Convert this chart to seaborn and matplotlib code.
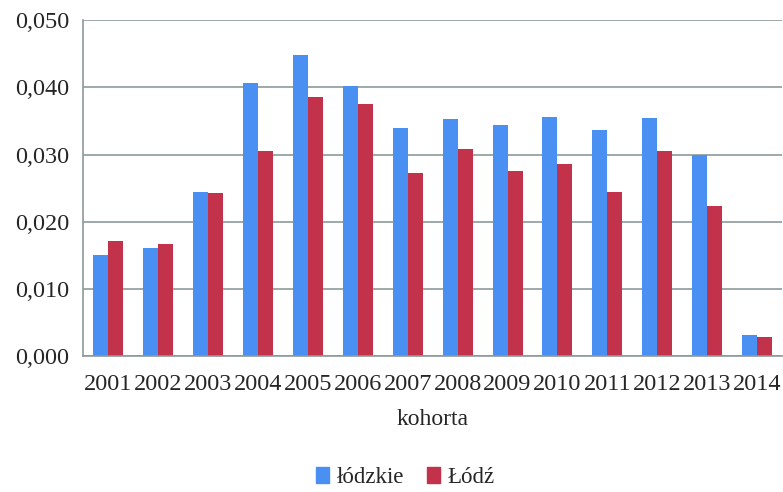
import numpy as np
import pandas as pd
import matplotlib.pyplot as plt
import seaborn as sns
from matplotlib.ticker import FuncFormatter, FixedLocator

# data
years = ['2001', '2002', '2003', '2004', '2005', '2006', '2007',
         '2008', '2009', '2010', '2011', '2012', '2013', '2014']
lodzkie = [0.0150, 0.0161, 0.0245, 0.0406, 0.0448, 0.0402, 0.0339,
           0.0353, 0.0344, 0.0356, 0.0337, 0.0354, 0.0300, 0.0031]
lodz = [0.0171, 0.0167, 0.0243, 0.0306, 0.0386, 0.0376, 0.0272,
        0.0308, 0.0275, 0.0286, 0.0245, 0.0306, 0.0224, 0.0028]
series = ['łódzkie', 'Łódź']

df = pd.DataFrame({
    'kohorta': years * 2,
    'value': lodzkie + lodz,
    'seria': [series[0]] * len(years) + [series[1]] * len(years),
})

sns.set_style('white')
plt.rcParams['font.family'] = ['Liberation Serif', 'DejaVu Serif']

fig = plt.figure(figsize=(7.83, 4.92), dpi=100)
ax = fig.add_axes([0.106, 0.276, 0.893, 0.683])

colors = {'łódzkie': '#4a90f2', 'Łódź': '#c2324a'}
sns.barplot(data=df, x='kohorta', y='value', hue='seria', palette=colors,
            width=0.6, saturation=1, linewidth=0, ax=ax, legend=False)

ax.set_xlim(-0.5, len(years) - 0.5)
ax.set_ylim(0, 0.050)
ax.set_yticks(np.arange(0, 0.0501, 0.010))
ax.yaxis.set_major_formatter(FuncFormatter(lambda v, p: f'{v:.3f}'.replace('.', ',')))
ax.yaxis.grid(True, color='#8c9a9a', linewidth=1.2)
ax.set_axisbelow(True)

# tick marks between categories
ax.xaxis.set_minor_locator(FixedLocator(np.arange(-0.5, len(years), 1)))
ax.tick_params(axis='x', which='major', length=0, pad=13, labelsize=17.5)
ax.tick_params(axis='x', which='minor', length=7, color='#8c9a9a', width=1.2)
ax.tick_params(axis='y', length=7, color='#8c9a9a', width=1.2, labelsize=17.5, pad=3)

for s in ['top', 'right']:
    ax.spines[s].set_visible(False)
for s in ['left', 'bottom']:
    ax.spines[s].set_color('#8c9a9a')
    ax.spines[s].set_linewidth(1.2)

ax.set_xlabel('kohorta', fontsize=17, labelpad=10)
ax.set_ylabel('')

handles = [plt.Rectangle((0, 0), 1, 1, color=colors[s]) for s in series]
fig.legend(handles, series, loc='center', bbox_to_anchor=(0.518, 0.03),
           ncol=2, frameon=False, fontsize=16.5, handlelength=0.55,
           handleheight=0.7, handletextpad=0.35, columnspacing=1.0,
           borderpad=0.2)

fig.savefig('out.png', dpi=100)
